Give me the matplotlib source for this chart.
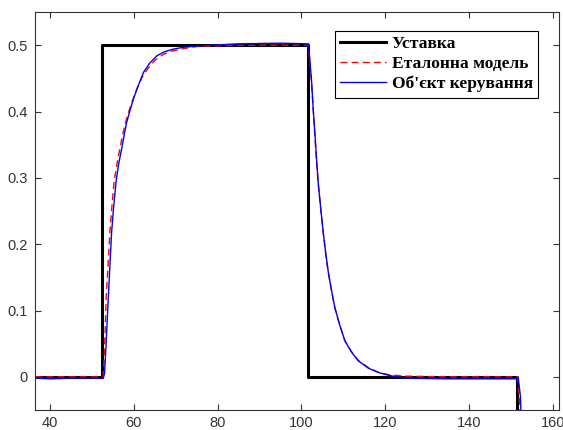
import matplotlib
matplotlib.use('Agg')
import matplotlib.pyplot as plt

# setpoint (Уставка)
t_sp = [36.5, 52.5, 52.5, 101.6, 101.6, 151.5, 151.5, 161.5]
sp = [0, 0, 0.5, 0.5, 0, 0, -0.5, -0.5]

# reference model (Еталонна модель)
t_ref = [36.5, 52.6, 52.8, 53.1, 53.4, 53.85, 54.3, 54.8, 55.3, 56.0, 56.7, 57.3,
         58.0, 58.8, 59.6, 60.7, 62.0, 63.5, 65.0, 67.0, 69.0, 72.0, 75.0, 80.0,
         90.0, 101.6, 102.0, 102.4, 102.8, 103.15, 103.55, 103.95, 104.55, 105.15,
         105.75, 106.35, 107.15, 107.95, 109.15, 110.35, 111.95, 113.55, 115.95,
         118.35, 121.0, 125.0, 135.0, 145.0, 151.6, 152.0, 152.4, 153.0, 161.5]
ref = [0, 0, 0.01, 0.06, 0.12, 0.17, 0.22, 0.26, 0.295, 0.322, 0.345, 0.365,
       0.383, 0.40, 0.415, 0.434, 0.452, 0.466, 0.477, 0.486, 0.491, 0.495, 0.498,
       0.499, 0.500, 0.500, 0.476, 0.445, 0.406, 0.37, 0.331, 0.295, 0.256, 0.22,
       0.188, 0.16, 0.131, 0.105, 0.078, 0.055, 0.038, 0.025, 0.014, 0.007, 0.003,
       0.001, 0, 0, 0, -0.03, -0.09, -0.2, -0.45]

# plant output (Об'єкт керування)
t_obj = [36.5, 40, 45, 50, 52.7, 53.0, 53.3, 53.6, 53.9, 54.3, 54.7, 55.2, 55.75,
         56.4, 57.1, 57.7, 58.3, 59.1, 59.9, 61.0, 62.3, 63.8, 65.5, 67.3, 69.4,
         72.0, 75.8, 85.0, 95.0, 101.7, 102.05, 102.45, 102.8, 103.2, 103.6, 104.0,
         104.6, 105.2, 105.8, 106.4, 107.2, 108.0, 109.2, 110.4, 112.0, 113.6,
         116.0, 118.4, 121.0, 124.7, 135.0, 145.0, 151.8, 152.3, 152.6, 153.2, 161.5]
obj = [-0.002, -0.003, -0.002, -0.002, -0.002, 0.005, 0.04, 0.08, 0.119, 0.17,
       0.219, 0.258, 0.294, 0.322, 0.344, 0.365, 0.384, 0.402, 0.419, 0.438, 0.459,
       0.473, 0.484, 0.490, 0.494, 0.497, 0.499, 0.502, 0.503, 0.502, 0.475, 0.444,
       0.405, 0.369, 0.33, 0.294, 0.255, 0.219, 0.187, 0.159, 0.13, 0.104, 0.077,
       0.054, 0.037, 0.024, 0.013, 0.0065, 0.002, -0.002, -0.003, -0.003, -0.003,
       -0.03, -0.09, -0.2, -0.45]

x_ticks = [40, 60, 80, 100, 120, 140, 160]
y_ticks = [0, 0.1, 0.2, 0.3, 0.4, 0.5]
y_labels = ['0', '0.1', '0.2', '0.3', '0.4', '0.5']

fig = plt.figure(figsize=(5.63, 4.30), dpi=100)
ax = fig.add_axes([35 / 563, 20 / 430, 524 / 563, 398 / 430])

ax.plot(t_sp, sp, color='black', lw=2.2, label='Уставка')
ax.plot(t_ref, ref, color='red', lw=1, ls=(0, (5, 3)), label='Еталонна модель')
ax.plot(t_obj, obj, color='blue', lw=1, label="Об'єкт керування")

ax.set_xlim(36.4, 161.5)
ax.set_ylim(-0.05, 0.55)
ax.set_xticks(x_ticks)
ax.set_yticks(y_ticks)
ax.set_yticklabels(y_labels)

for lab in ax.get_xticklabels() + ax.get_yticklabels():
    lab.set_family('Liberation Sans')
    lab.set_fontsize(10.5)
    lab.set_color('#222222')
ax.tick_params(direction='in', length=4, width=0.8, top=True, right=True, colors='#333333')
ax.tick_params(axis='y', pad=5)
ax.tick_params(axis='x', pad=4)
for s in ax.spines.values():
    s.set_linewidth(0.8)
    s.set_color('#333333')

leg = ax.legend(loc='upper left', bbox_to_anchor=(335 / 563, 1 - 31 / 430),
                bbox_transform=fig.transFigure, fancybox=False, framealpha=1,
                edgecolor='black', borderaxespad=0,
                prop={'family': 'Liberation Serif', 'weight': 'bold', 'size': 12.6},
                handlelength=2.6, handletextpad=0.35, labelspacing=0.2,
                borderpad=0.3)
leg.get_frame().set_linewidth(0.8)

fig.savefig('out.png', dpi=100)
